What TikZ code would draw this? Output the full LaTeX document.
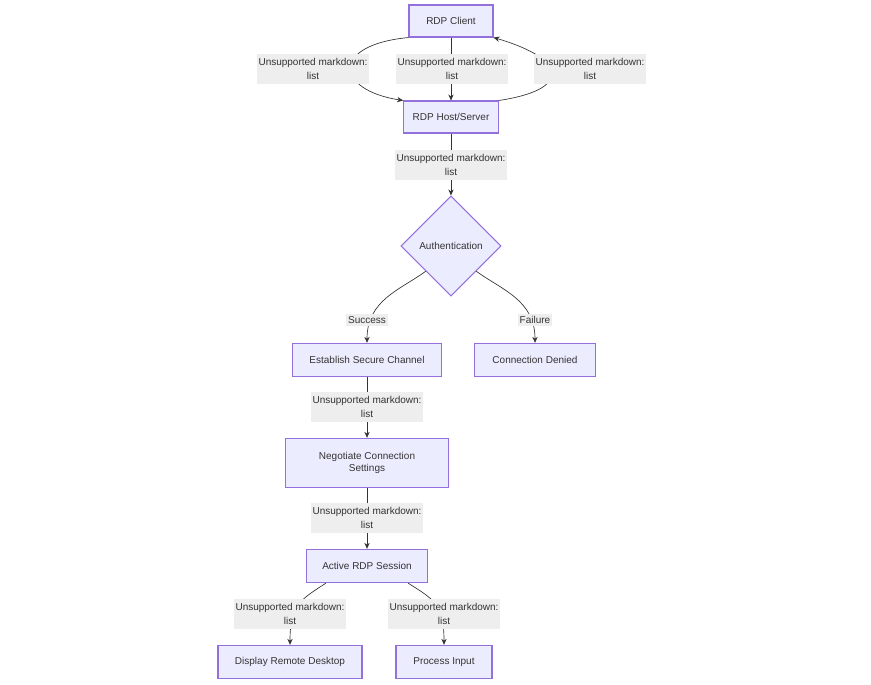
\documentclass[tikz,border=0pt]{standalone}
\usepackage{fontspec}
\setmainfont{Liberation Sans}
\usetikzlibrary{shapes.geometric,arrows.meta}
\definecolor{boxfill}{HTML}{ECECFF}
\definecolor{boxline}{HTML}{9370DB}
\definecolor{lblfill}{HTML}{EEEEEE}
\definecolor{ink}{HTML}{333333}
\tikzset{
  box/.style={draw=boxline,fill=boxfill,line width=0.8pt,text=ink,font=\fontsize{7.5}{9}\selectfont,align=center,inner sep=0pt},
  lbl/.style={fill=lblfill,text=ink,font=\fontsize{7.5}{11}\selectfont,align=center,inner sep=1.5pt,minimum height=22pt},
  link/.style={draw=ink,line width=0.5pt,-{Stealth[length=4.5pt,width=4pt]}}
}
\begin{document}
\begin{tikzpicture}[x=0.75pt,y=-0.75pt]
  \useasboundingbox (0,0) rectangle (871,685);

  % nodes
  \node[box,minimum width=63pt,minimum height=24pt] (client) at (451,21) {RDP Client};
  \node[box,minimum width=71pt,minimum height=24pt] (host) at (451,117) {RDP Host/Server};
  \node[box,diamond,minimum width=75pt,minimum height=75pt] (auth) at (451,246) {Authentication};
  \node[box,minimum width=112pt,minimum height=25pt] (secure) at (367,360) {Establish Secure Channel};
  \node[box,minimum width=91pt,minimum height=25pt] (denied) at (535,360) {Connection Denied};
  \node[box,minimum width=122pt,minimum height=37pt] (negotiate) at (367,463) {Negotiate Connection\\Settings};
  \node[box,minimum width=91pt,minimum height=25pt] (session) at (367,566) {Active RDP Session};
  \node[box,minimum width=108pt,minimum height=25pt] (desktop) at (290,662) {Display Remote Desktop};
  \node[box,minimum width=72pt,minimum height=25pt] (input) at (444,662) {Process Input};

  % connectors
  \draw[link] (client.south west) .. controls (330,45) and (335,90) .. (host.north west);
  \draw[link] (client) -- (host);
  \draw[link] (host.north east) .. controls (570,90) and (570,60) .. (client.south east);
  \draw[link] (host) -- (auth);
  \draw[link] (auth.south west) .. controls (400,290) and (367,300) .. (secure);
  \draw[link] (auth.south east) .. controls (502,290) and (535,300) .. (denied);
  \draw[link] (secure) -- (negotiate);
  \draw[link] (negotiate) -- (session);
  \draw[link] (session.south west) ++(20,0) .. controls (300,600) and (290,605) .. (desktop);
  \draw[link] (session.south east) ++(-20,0) .. controls (435,600) and (444,605) .. (input);

  % edge labels
  \node[lbl] (l1) at (313,69) {Unsupported markdown:\\list};
  \node[lbl] (l2) at (452,69) {Unsupported markdown:\\list};
  \node[lbl] (l3) at (590,69) {Unsupported markdown:\\list};
  \node[lbl] (l4) at (451,165) {Unsupported markdown:\\list};
  \node[lbl,minimum height=0pt] (ok) at (367,320) {Success};
  \node[lbl,minimum height=0pt] (fail) at (535,320) {Failure};
  \node[lbl] (l5) at (367,407) {Unsupported markdown:\\list};
  \node[lbl] (l6) at (367,518) {Unsupported markdown:\\list};
  \node[lbl] (l7) at (290,614) {Unsupported markdown:\\list};
  \node[lbl] (l8) at (444,614) {Unsupported markdown:\\list};
\end{tikzpicture}
\end{document}
